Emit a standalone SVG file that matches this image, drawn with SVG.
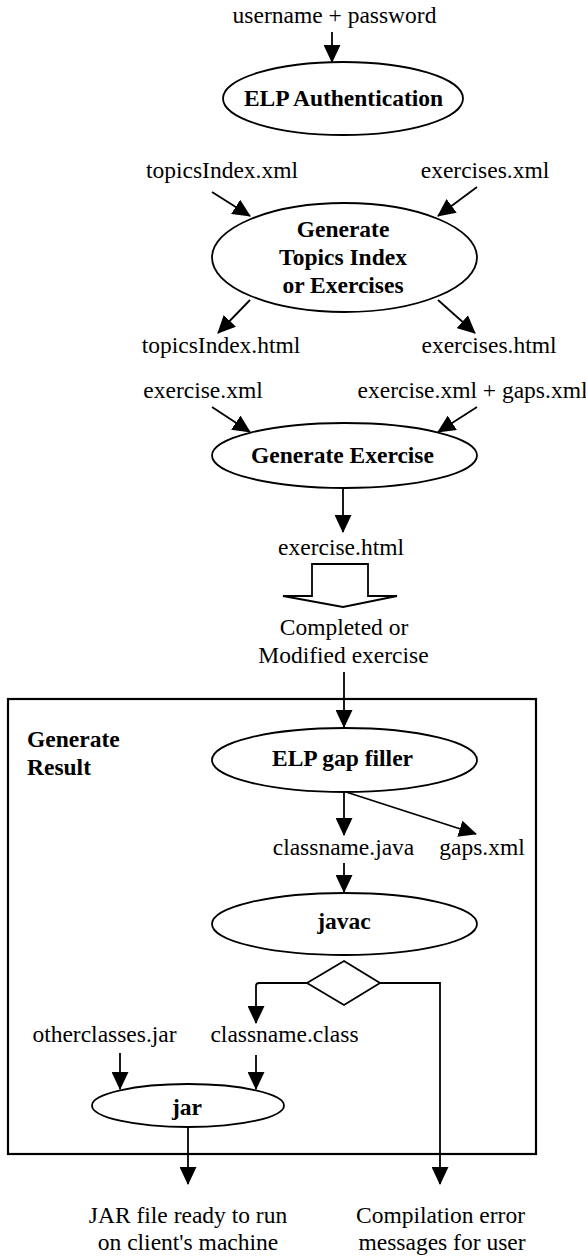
<svg xmlns="http://www.w3.org/2000/svg" width="586" height="1256" viewBox="0 0 586 1256">
<style>
text{font-family:"Liberation Serif","Times New Roman",serif;font-size:23.5px;fill:#000}
.c{text-anchor:middle}
.b{font-weight:bold}
.n{fill:#fff;stroke:#000;stroke-width:1.8}
.e{fill:none;stroke:#000;stroke-width:1.8}
.a{marker-end:url(#ah)}
</style>
<defs>
<marker id="ah" viewBox="0 0 18 17" refX="17" refY="8.5" markerWidth="18" markerHeight="17" markerUnits="userSpaceOnUse" orient="auto">
<path d="M0,0 L18,8.5 L0,17 Z" fill="#000"/>
</marker>
</defs>
<rect width="586" height="1256" fill="#fff"/>

<g id="box-generate-result">
<rect x="8" y="699" width="528" height="455" fill="none" stroke="#000" stroke-width="2.2"/>
<text class="b" x="27" y="747">Generate</text>
<text class="b" x="27" y="775">Result</text>
</g>

<g id="connectors">
<line class="e a" x1="332" y1="32" x2="332" y2="62"/>
<line class="e a" x1="212" y1="192" x2="250" y2="216"/>
<line class="e a" x1="477" y1="187" x2="438" y2="216"/>
<line class="e a" x1="250" y1="300" x2="218" y2="333"/>
<line class="e a" x1="438" y1="300" x2="475" y2="333"/>
<line class="e a" x1="212" y1="407" x2="250" y2="432"/>
<line class="e a" x1="477" y1="407" x2="438" y2="432"/>
<line class="e a" x1="343" y1="488" x2="343" y2="532"/>
<polygon class="n" points="312,564 368,564 368,596 397,596 343,607 283,596 312,596"/>
<line class="e a" x1="344" y1="672" x2="344" y2="727"/>
<line class="e a" x1="344" y1="792" x2="344" y2="835"/>
<line class="e a" x1="346" y1="792" x2="476" y2="834"/>
<line class="e a" x1="344" y1="863" x2="344" y2="892"/>
<path class="e a" d="M307,983 L259,983 Q256,983 256,986 L256,1023"/>
<path class="e a" d="M380,983 L440,983 L440,1184"/>
<line class="e a" x1="120" y1="1053" x2="120" y2="1089"/>
<line class="e a" x1="256" y1="1055" x2="256" y2="1089"/>
<line class="e a" x1="188" y1="1127" x2="188" y2="1184"/>
</g>

<g id="input-username">
<text class="c" x="334.5" y="23">username + password</text>
</g>
<g id="node-elp-authentication">
<ellipse class="n" cx="343" cy="98.5" rx="120" ry="36.5"/>
<text class="c b" x="343.5" y="106">ELP Authentication</text>
</g>
<g id="input-topicsindex-xml"><text class="c" x="222" y="178">topicsIndex.xml</text></g>
<g id="input-exercises-xml"><text class="c" x="485" y="178">exercises.xml</text></g>
<g id="node-generate-topics">
<ellipse class="n" cx="344.5" cy="257.5" rx="132.5" ry="54.5"/>
<text class="c b" x="343" y="237">Generate</text>
<text class="c b" x="343" y="265">Topics Index</text>
<text class="c b" x="343" y="293">or Exercises</text>
</g>
<g id="output-topicsindex-html"><text class="c" x="221" y="353">topicsIndex.html</text></g>
<g id="output-exercises-html"><text class="c" x="489" y="353">exercises.html</text></g>
<g id="input-exercise-xml"><text class="c" x="203" y="398">exercise.xml</text></g>
<g id="input-exercise-gaps"><text class="c" x="472.5" y="398">exercise.xml + gaps.xml</text></g>
<g id="node-generate-exercise">
<ellipse class="n" cx="344.5" cy="455.5" rx="132.5" ry="32.5"/>
<text class="c b" x="342.5" y="463">Generate Exercise</text>
</g>
<g id="output-exercise-html"><text class="c" x="341" y="555">exercise.html</text></g>
<g id="completed-exercise">
<text class="c" x="344" y="635">Completed or</text>
<text class="c" x="343.5" y="663">Modified exercise</text>
</g>
<g id="node-elp-gap-filler">
<ellipse class="n" cx="344.5" cy="760" rx="132.5" ry="32"/>
<text class="c b" x="342.5" y="766">ELP gap filler</text>
</g>
<g id="output-classname-java"><text class="c" x="343.5" y="855">classname.java</text></g>
<g id="output-gaps-xml"><text class="c" x="482" y="855">gaps.xml</text></g>
<g id="node-javac">
<ellipse class="n" cx="344.5" cy="924" rx="132.5" ry="31"/>
<text class="c b" x="344" y="929">javac</text>
</g>
<g id="node-decision">
<polygon class="n" points="344,961 380,983 344,1005 307,983"/>
</g>
<g id="input-otherclasses-jar"><text class="c" x="104.5" y="1042">otherclasses.jar</text></g>
<g id="output-classname-class"><text class="c" x="284.5" y="1042">classname.class</text></g>
<g id="node-jar">
<ellipse class="n" cx="188" cy="1105.5" rx="96" ry="21.5"/>
<text class="c b" x="187" y="1115">jar</text>
</g>
<g id="output-jar-file">
<text class="c" x="188" y="1223">JAR file ready to run</text>
<text class="c" x="188" y="1250">on client's machine</text>
</g>
<g id="output-compilation-errors">
<text class="c" x="440.5" y="1223">Compilation error</text>
<text class="c" x="442" y="1250">messages for user</text>
</g>
</svg>
